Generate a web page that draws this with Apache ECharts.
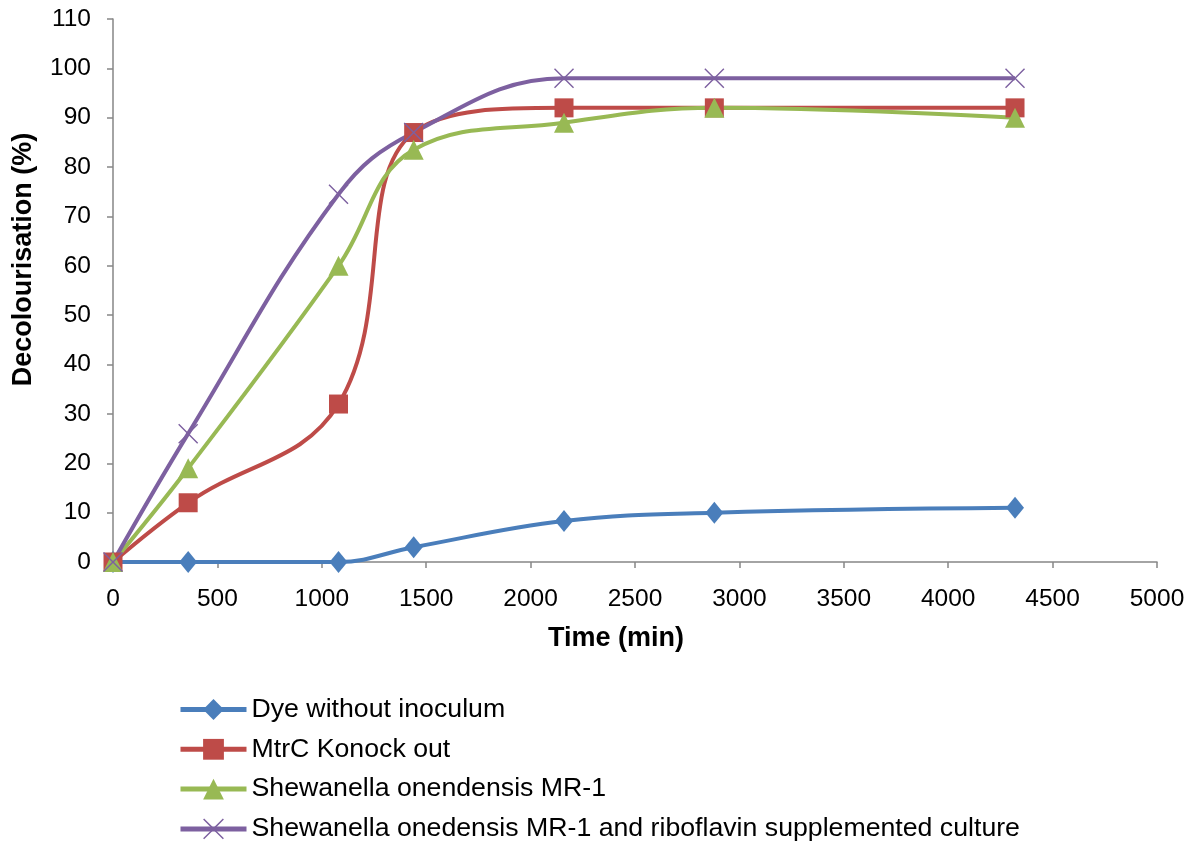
<!DOCTYPE html>
<html>
<head>
<meta charset="utf-8">
<script src="https://cdn.jsdelivr.net/npm/echarts@6/dist/echarts.min.js"></script>
<style>
  html, body { margin: 0; padding: 0; background: #fff; }
  #chart { width: 1193px; height: 845px; }
</style>
</head>
<body>
<div id="chart"></div>
<script>
// Sampling times (min)
const timesMin = [0, 360, 1080, 1440, 2160, 2880, 4320];

// Decolourisation (%) per culture
const dyeWithoutInoculum = [0, 0, 0, 3, 8.3, 10, 11];
const mtrcKnockOut = [0, 12, 32, 87, 92, 92, 92];
const shewanellaMR1 = [0, 19, 60, 83.5, 89, 92, 90];
const shewanellaRiboflavin = [0, 26, 74.5, 87, 98, 98, 98];

const seriesNames = [
  'Dye without inoculum',
  'MtrC Konock out',
  'Shewanella onendensis MR-1',
  'Shewanella onedensis MR-1 and riboflavin supplemented culture'
];

const FONT = 'Liberation Sans, Arial, sans-serif';
const AXIS_GREY = '#868686';

// thin "x" marker drawn as a filled outline
const crossPath = 'path://M0,0.5L0.5,0L5,4.5L9.5,0L10,0.5L5.5,5L10,9.5L9.5,10L5,5.5L0.5,10L0,9.5L4.5,5Z';

function pairs(values) {
  return timesMin.map((t, i) => [t, values[i]]);
}

function lineSeries(name, values, color, symbol, symbolSize) {
  return {
    name: name,
    type: 'line',
    data: pairs(values),
    smooth: 0.4,
    symbol: symbol,
    symbolSize: symbolSize,
    lineStyle: { color: color, width: 4 },
    itemStyle: { color: color },
    emphasis: { disabled: true },
    animation: false
  };
}

const chart = echarts.init(document.getElementById('chart'), null, { renderer: 'canvas' });

chart.setOption({
  backgroundColor: '#ffffff',
  textStyle: { fontFamily: FONT },
  grid: { left: 113, right: 36, top: 19, bottom: 283, containLabel: false },
  xAxis: {
    type: 'value',
    min: 0,
    max: 5000,
    interval: 500,
    name: 'Time (min)',
    nameLocation: 'middle',
    nameGap: 63,
    nameTextStyle: {
      fontFamily: FONT, fontSize: 27, fontWeight: 'bold', color: '#000',
      padding: [0, 38, 0, 0]
    },
    axisLine: { show: true, onZero: false, lineStyle: { color: AXIS_GREY, width: 1.5 } },
    axisTick: { show: true, length: 6, lineStyle: { color: AXIS_GREY, width: 1.5 } },
    axisLabel: {
      fontFamily: FONT, fontSize: 24.5, color: '#000', margin: 25,
      formatter: v => String(v)
    },
    splitLine: { show: false }
  },
  yAxis: {
    type: 'value',
    min: 0,
    max: 110,
    interval: 10,
    name: 'Decolourisation (%)',
    nameLocation: 'middle',
    nameGap: 76,
    nameTextStyle: {
      fontFamily: FONT, fontSize: 27, fontWeight: 'bold', color: '#000',
      padding: [0, 0, 0, 62]
    },
    axisLine: { show: true, lineStyle: { color: AXIS_GREY, width: 1.5 } },
    axisTick: { show: true, length: 6, lineStyle: { color: AXIS_GREY, width: 1.5 } },
    axisLabel: { fontFamily: FONT, fontSize: 24.5, color: '#000', margin: 22 },
    splitLine: { show: false }
  },
  legend: {
    orient: 'vertical',
    left: 178,
    top: 696,
    height: 150,
    padding: 0,
    itemWidth: 66,
    itemHeight: 26,
    itemGap: 12.8,
    lineStyle: { width: 5 },
    textStyle: { fontFamily: FONT, fontSize: 26.7, lineHeight: 26, color: '#000' },
    data: seriesNames
  },
  series: [
    lineSeries(seriesNames[0], dyeWithoutInoculum, '#4A7EBB', 'diamond', [18, 22]),
    lineSeries(seriesNames[1], mtrcKnockOut, '#BE4B48', 'rect', 19),
    lineSeries(seriesNames[2], shewanellaMR1, '#98B954', 'triangle', 20),
    lineSeries(seriesNames[3], shewanellaRiboflavin, '#7D60A0', crossPath, 20)
  ]
});
</script>
</body>
</html>
